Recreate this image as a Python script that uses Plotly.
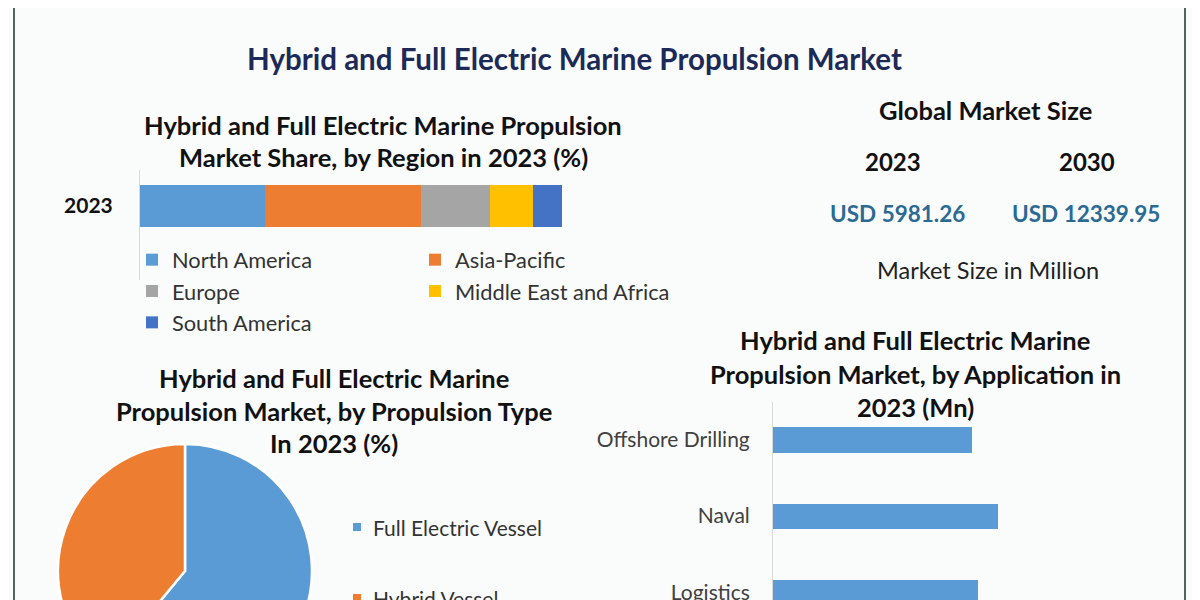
import plotly.graph_objects as go

# page offset of the plot div (default body margin) and figure size
OX, OY = 8, 8
W, H = 1192, 712

# ---------------- data ----------------
bar_year = ["2023"]
region_names = ["North America", "Asia-Pacific", "Europe", "Middle East and Africa", "South America"]
region_share = [29.6, 37.1, 16.3, 10.1, 6.9]
region_colors = ["#5b9bd5", "#ed7d31", "#a5a5a5", "#ffc000", "#4472c4"]
region_legend = ["legend", "legend2", "legend", "legend2", "legend"]

propulsion_types = ["Full Electric Vessel", "Hybrid Vessel"]
propulsion_share = [61, 39]
propulsion_colors = ["#5b9bd5", "#ed7d31"]

applications = ["Offshore Drilling", "Naval", "Logistics"]
application_values = [1190, 1345, 1228]

market_years = ["2023", "2030"]
market_values = [5981.26, 12339.95]

FONT = "Lato"


def px(x):
    return (x - OX) / W


def py(y):
    return 1 - (y - OY) / H


fig = go.Figure()

# stacked regional share bar
for name, val, col, lg in zip(region_names, region_share, region_colors, region_legend):
    fig.add_trace(go.Bar(
        x=[val], y=bar_year, orientation="h", name=name,
        marker=dict(color=col, line=dict(width=0)), width=0.4,
        legend=lg, xaxis="x", yaxis="y", hoverinfo="name+x"))

# propulsion pie
fig.add_trace(go.Pie(
    labels=propulsion_types, values=propulsion_share, sort=False,
    direction="clockwise", rotation=0, textinfo="none", showlegend=False,
    marker=dict(colors=propulsion_colors, line=dict(color="white", width=2.5)),
    domain=dict(x=[px(58), px(312)], y=[py(698), py(444)])))

# application bars
fig.add_trace(go.Bar(
    x=application_values, y=applications, orientation="h",
    marker=dict(color="#5b9bd5", line=dict(width=0)), width=0.33,
    xaxis="x2", yaxis="y2", showlegend=False))

ann = []


def text(x, y, s, size, color="#111111", bold=True, xanchor="center"):
    ann.append(dict(x=px(x), y=py(y), xref="paper", yref="paper", text=s,
                    showarrow=False, xanchor=xanchor, yanchor="middle",
                    font=dict(family=FONT, size=size, color=color,
                              weight="bold" if bold else "normal")))


TS = 25.5
text(574, 58, "Hybrid and Full Electric Marine Propulsion Market", 29.5, "#1d2a57")
text(383, 125, "Hybrid and Full Electric Marine Propulsion", TS)
text(383, 157, "Market Share, by Region in 2023 (%)", TS)
text(334, 378, "Hybrid and Full Electric Marine", TS)
text(334, 411, "Propulsion Market, by Propulsion Type", TS)
text(334, 443, "In 2023 (%)", TS)
text(915, 340, "Hybrid and Full Electric Marine", TS)
text(915, 374, "Propulsion Market, by Application in", TS)
text(915, 407, "2023 (Mn)", TS)
text(985, 110, "Global Market Size", TS)
text(893, 161, market_years[0], 24)
text(1087, 161, market_years[1], 24)
text(898, 213, f"USD {market_values[0]:.2f}", 22.5, "#2a6a93")
text(1086, 213, f"USD {market_values[1]:.2f}", 22.5, "#2a6a93")
text(988, 270, "Market Size in Million", 23.5, "#222222", bold=False)

# pie legend
shapes = []
for i, (lab, col) in enumerate(zip(propulsion_types, propulsion_colors)):
    yy = 527 + 71 * i
    text(371, yy, lab, 21, "#333333", bold=False, xanchor="left")
    shapes.append(dict(type="rect", xref="paper", yref="paper",
                       x0=px(353), x1=px(361), y0=py(yy + 4), y1=py(yy - 4),
                       fillcolor=col, line=dict(width=0)))

# frame lines
for xx in (14, 1185):
    shapes.append(dict(type="line", xref="paper", yref="paper",
                       x0=px(xx), x1=px(xx), y0=0, y1=1,
                       line=dict(color="#56625f", width=2)))

legend_style = dict(orientation="v", xanchor="left", yanchor="top",
                    traceorder="normal",
                    bgcolor="rgba(0,0,0,0)", borderwidth=0,
                    font=dict(family=FONT, size=21.8, color="#333333"))

fig.update_layout(
    width=W, height=H, margin=dict(l=0, r=0, t=0, b=0),
    paper_bgcolor="#fafcfc", plot_bgcolor="rgba(0,0,0,0)",
    barmode="stack", bargap=0,
    font=dict(family=FONT),
    annotations=ann, shapes=shapes,
    legend=dict(x=px(132), y=py(239), **legend_style),
    legend2=dict(x=px(415), y=py(239), **legend_style),
    xaxis=dict(domain=[px(140), px(562)], range=[0, 100], visible=False,
               fixedrange=True),
    yaxis=dict(domain=[py(280), py(170)], type="category", range=[-0.705, 0.343],
               showline=True, linecolor="#d9d9d9", linewidth=1, ticks="",
               showgrid=False, zeroline=False, ticklabelstandoff=22,
               tickfont=dict(family=FONT, size=21, color="#111111",
                             weight="bold")),
    xaxis2=dict(domain=[px(773), px(1150)], range=[0, 2255], visible=False,
                anchor="y2"),
    yaxis2=dict(domain=[0, py(402)], type="category",
                categoryorder="array", categoryarray=applications,
                range=[3.68, -0.5], showline=True, linecolor="#d9d9d9",
                linewidth=1, ticks="", showgrid=False, zeroline=False,
                ticklabelstandoff=18, anchor="x2",
                tickfont=dict(family=FONT, size=21, color="#404040")),
)

fig.write_html("out.html")
